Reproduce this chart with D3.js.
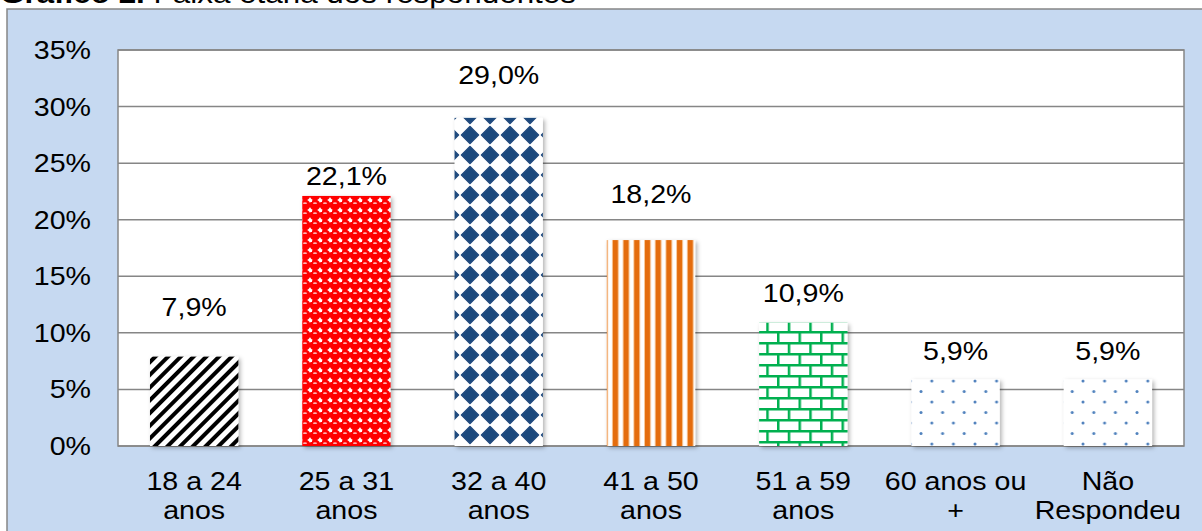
<!DOCTYPE html>
<html>
<head>
<meta charset="utf-8">
<script src="https://cdn.jsdelivr.net/npm/d3@7"></script>
<style>
  body { margin: 0; background: #fff; }
  text { font-family: "Liberation Sans", Arial, sans-serif; fill: #000; }
</style>
</head>
<body>
<svg id="chart"></svg>
<script>
// Chart size
const width = 1202;
const height = 531;

// Data
const categories = ["18 a 24 anos", "25 a 31 anos", "32 a 40 anos", "41 a 50 anos", "51 a 59 anos", "60 anos ou +", "Não Respondeu"];
const categoryLines = [["18 a 24", "anos"], ["25 a 31", "anos"], ["32 a 40", "anos"], ["41 a 50", "anos"], ["51 a 59", "anos"], ["60 anos ou", "+"], ["Não", "Respondeu"]];
const values = [0.079, 0.221, 0.290, 0.182, 0.109, 0.059, 0.059];
const valueLabels = ["7,9%", "22,1%", "29,0%", "18,2%", "10,9%", "5,9%", "5,9%"];
const tickValues = [0, 0.05, 0.10, 0.15, 0.20, 0.25, 0.30, 0.35];
// where Excel left each data label, in value units above the bar
const labelLift = [0.044, 0.018, 0.038, 0.041, 0.026, 0.025, 0.025];
const patterns = ["stripes", "spheres", "diamonds", "vstripes", "bricks", "dots", "dots"];

const plot = {left: 118, right: 1184, top: 50, bottom: 446};
const sx = 1.1; // the original picture is a bit stretched sideways

const svg = d3.select("#chart")
	.attr("width", width)
	.attr("height", height);

// Patterns for the bar fills
const defs = svg.append("defs");

let p = defs.append("pattern").attr("id", "stripes")
	.attr("patternUnits", "userSpaceOnUse")
	.attr("width", 9).attr("height", 9)
	.attr("patternTransform", "rotate(45)");
p.append("rect").attr("width", 9).attr("height", 9).attr("fill", "#fff");
p.append("rect").attr("width", 4).attr("height", 9).attr("fill", "#000");

p = defs.append("pattern").attr("id", "spheres")
	.attr("patternUnits", "userSpaceOnUse")
	.attr("width", 10).attr("height", 10);
p.append("rect").attr("width", 10).attr("height", 10).attr("fill", "#fff");
p.append("circle").attr("cx", 5).attr("cy", 5).attr("r", 5.4).attr("fill", "#ff0000");
p.append("rect").attr("x", -2).attr("y", -2).attr("width", 4).attr("height", 4).attr("fill", "#fff");
p.append("ellipse").attr("cx", 5).attr("cy", 3.2).attr("rx", 2).attr("ry", 0.9).attr("fill", "#ffb0b0");

p = defs.append("pattern").attr("id", "diamonds")
	.attr("patternUnits", "userSpaceOnUse")
	.attr("width", 20).attr("height", 20)
	.attr("x", 0).attr("y", 5);
p.append("rect").attr("width", 20).attr("height", 20).attr("fill", "#fff");
p.append("path").attr("d", "M10,1.5 L18.5,10 L10,18.5 L1.5,10 Z")
	.attr("fill", "#1f497d").attr("stroke", "#1f497d").attr("stroke-width", 1.5).attr("stroke-linejoin", "round");

p = defs.append("pattern").attr("id", "vstripes")
	.attr("patternUnits", "userSpaceOnUse")
	.attr("width", 10.7).attr("height", 10)
	.attr("x", 2);
p.append("rect").attr("width", 10.7).attr("height", 10).attr("fill", "#fff");
p.append("rect").attr("x", 0).attr("width", 7).attr("height", 10).attr("fill", "#f8c89c");
p.append("rect").attr("x", 1).attr("width", 5).attr("height", 10).attr("fill", "#e46c0a");

p = defs.append("pattern").attr("id", "bricks")
	.attr("patternUnits", "userSpaceOnUse")
	.attr("width", 21.5).attr("height", 22)
	.attr("x", 3).attr("y", 1);
p.append("rect").attr("width", 21.5).attr("height", 22).attr("fill", "#fff");
p.append("g").attr("fill", "#00b050")
	.selectAll("rect")
	.data([[0, 0, 21.5, 2.5], [0, 11, 21.5, 2.5], [0, 0, 2.5, 11], [10.75, 11, 2.5, 11]])
	.join("rect")
	.attr("x", d => d[0]).attr("y", d => d[1]).attr("width", d => d[2]).attr("height", d => d[3]);

p = defs.append("pattern").attr("id", "dots")
	.attr("patternUnits", "userSpaceOnUse")
	.attr("width", 21.6).attr("height", 21)
	.attr("x", 1).attr("y", 1);
p.append("rect").attr("width", 21.6).attr("height", 21).attr("fill", "#fff");
p.append("circle").attr("cx", 2).attr("cy", 2).attr("r", 1.5).attr("fill", "#4f81bd");
p.append("circle").attr("cx", 12.8).attr("cy", 12.5).attr("r", 1.5).attr("fill", "#4f81bd");

const shadow = defs.append("filter").attr("id", "shadow")
	.attr("x", "-20%").attr("y", "-20%").attr("width", "140%").attr("height", "140%");
shadow.append("feDropShadow")
	.attr("dx", 2).attr("dy", 2).attr("stdDeviation", 2)
	.attr("flood-color", "#000").attr("flood-opacity", 0.3);

// Title (cut off at the top of the picture, as in the original)
const title = svg.append("text")
	.attr("x", 0).attr("y", 3)
	.attr("textLength", 576).attr("lengthAdjust", "spacingAndGlyphs")
	.style("font-size", "28px");
title.append("tspan").style("font-weight", "bold").text("Gráfico 2.");
title.append("tspan").text(" Faixa etária dos respondentes");

// Chart area background
svg.append("rect")
	.attr("x", 7).attr("y", 9)
	.attr("width", width).attr("height", height)
	.attr("fill", "#c6d9f1")
	.attr("stroke", "#868686").attr("stroke-width", 1.5);

// Plot area
svg.append("rect")
	.attr("x", plot.left).attr("y", plot.top)
	.attr("width", plot.right - plot.left).attr("height", plot.bottom - plot.top)
	.attr("fill", "#fff")
	.attr("stroke", "#868686").attr("stroke-width", 1.5);

// Scales
const x = d3.scaleBand()
	.domain(categories)
	.range([plot.left, plot.right])
	.paddingInner(0.42)
	.paddingOuter(0.21);

const y = d3.scaleLinear()
	.domain([0, 0.35])
	.range([plot.bottom, plot.top]);

// Gridlines
svg.append("g")
	.selectAll("line")
	.data(tickValues)
	.join("line")
	.attr("x1", plot.left).attr("x2", plot.right)
	.attr("y1", d => y(d)).attr("y2", d => y(d))
	.attr("stroke", "#868686").attr("stroke-width", 1.5);

// Y tick labels
const fmt = d3.format(".0%");
svg.append("g")
	.selectAll("text")
	.data(tickValues)
	.join("text")
	.attr("transform", d => `translate(91, ${y(d) + 9}) scale(${sx}, 1)`)
	.style("text-anchor", "end")
	.style("font-size", "26px")
	.text(d => fmt(d));

// Bars
svg.append("g")
	.selectAll("rect")
	.data(values)
	.join("rect")
	.attr("x", (d, i) => x(categories[i]))
	.attr("y", d => y(d))
	.attr("width", x.bandwidth())
	.attr("height", d => y(0) - y(d))
	.attr("fill", (d, i) => `url(#${patterns[i]})`)
	.attr("filter", "url(#shadow)");

// Value labels
svg.append("g")
	.selectAll("text")
	.data(values)
	.join("text")
	.attr("transform", (d, i) => `translate(${x(categories[i]) + x.bandwidth() / 2}, ${y(d + labelLift[i]) + 9}) scale(${sx}, 1)`)
	.style("text-anchor", "middle")
	.style("font-size", "26px")
	.text((d, i) => valueLabels[i]);

// Category labels
const cat = svg.append("g")
	.selectAll("g")
	.data(categories)
	.join("g")
	.attr("transform", d => `translate(${x(d) + x.bandwidth() / 2}, 0)`);

cat.selectAll("text")
	.data((d, i) => categoryLines[i])
	.join("text")
	.attr("transform", (d, j) => `translate(0, ${490 + j * 29}) scale(${sx}, 1)`)
	.style("text-anchor", "middle")
	.style("font-size", "26px")
	.text(d => d);
</script>
</body>
</html>
